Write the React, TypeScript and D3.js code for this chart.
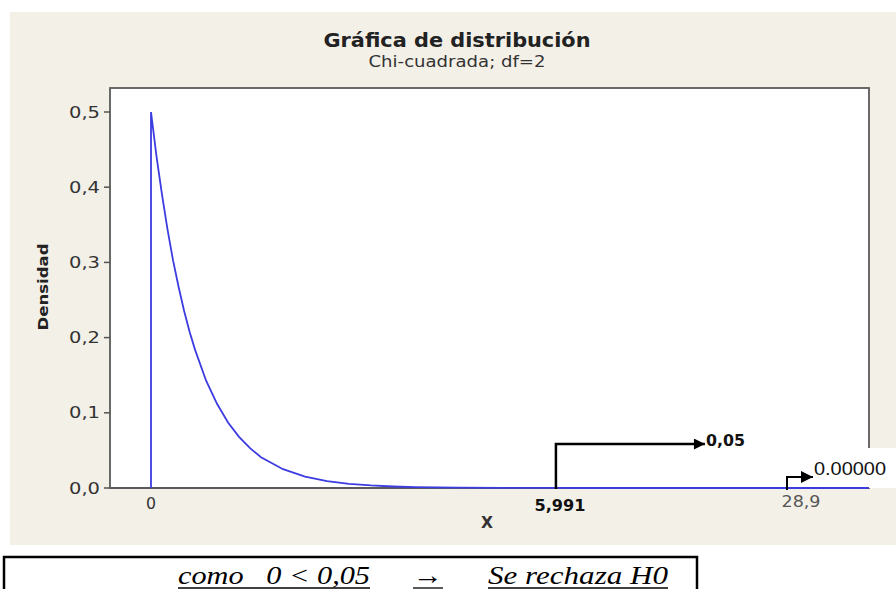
import React from "react";
import * as d3 from "d3";

// ---- data ----
const title = "Gráfica de distribución";
const subtitle = "Chi-cuadrada; df=2";
const yLabel = "Densidad";
const xLabel = "X";

const yTicks = [0, 0.1, 0.2, 0.3, 0.4, 0.5];
const xTicks = [0];

// density curve (x, density)
const curveX = [0, 0.25, 0.5, 0.75, 1, 1.25, 1.5, 1.75, 2, 2.5, 3, 3.5, 4, 4.5, 5, 6, 7, 8, 9, 10, 11, 12, 14, 16, 18, 20, 25, 32.6];
const curveY = [0.5, 0.441, 0.39, 0.344, 0.303, 0.268, 0.236, 0.208, 0.184, 0.143, 0.112, 0.087, 0.068, 0.053, 0.041, 0.025, 0.015, 0.009, 0.0056, 0.0034, 0.002, 0.0012, 0.0005, 0.0002, 0.0001, 0, 0, 0];

// pasted annotations (anchor on the x axis, label text)
const criticalAt = 18.4; // where the "5,991" marker sits in the picture
const criticalLabel = "5,991";
const alphaLabel = "0,05";
const statAt = 28.9;
const statLabel = "28,9";
const pLabel = "0.00000";

const conclusionLeft = "como   0 < 0,05";
const conclusionArrow = "→";
const conclusionRight = "Se rechaza H0";

const W = 896;
const H = 589;

export default function App() {
  const x = d3.scaleLinear().domain([0, 28.9]).range([151, 787]);
  const y = d3.scaleLinear().domain([0, 0.5]).range([488, 112]);
  const frameL = 110, frameR = 869, frameT = 88, frameB = 488;

  const pts: [number, number][] = [[curveX[0], 0], ...curveX.map((v, i) => [v, curveY[i]] as [number, number])];
  const line = d3.line<[number, number]>().x(d => x(d[0])).y(d => y(d[1]));

  const loc = d3.formatLocale({ decimal: ",", thousands: ".", grouping: [3], currency: ["", ""] });
  const fmt = loc.format(".1f");

  const sans = "'DejaVu Sans', Verdana, sans-serif";
  const serif = "'Liberation Serif', 'Times New Roman', serif";

  const cx = x(criticalAt);
  const sx = x(statAt);
  const base = y(0);

  return (
    <svg width={W} height={H} style={{ position: "absolute", left: 0, top: 0, background: "#ffffff" }}>
      <defs>
        <marker id="ah" viewBox="0 0 10 10" refX="10" refY="5" markerWidth="6" markerHeight="4.4" markerUnits="strokeWidth" orient="auto">
          <path d="M0,0 L10,5 L0,10 z" fill="#000" />
        </marker>
        <marker id="ah2" viewBox="0 0 10 10" refX="10" refY="5" markerWidth="8" markerHeight="6" markerUnits="strokeWidth" orient="auto">
          <path d="M0,0 L10,5 L0,10 z" fill="#000" />
        </marker>
      </defs>
      {/* beige chart background */}
      <rect x={10} y={12} width={W - 10} height={533} fill="#f3f0e8" />
      {/* plot area */}
      <rect x={frameL} y={frameT} width={frameR - frameL} height={frameB - frameT} fill="#ffffff" stroke="#5a5a5a" strokeWidth={1.8} />
      {/* white patch pasted over right edge */}
      <rect x={805} y={448} width={W - 805} height={40} fill="#ffffff" />
      <line x1={frameL} x2={frameR} y1={frameB} y2={frameB} stroke="#5a5a5a" strokeWidth={1.8} />

      {/* title */}
      <text x={457} y={47} textAnchor="middle" fontFamily={sans} fontWeight="bold" fontSize={19} fill="#222" textLength={267} lengthAdjust="spacingAndGlyphs">{title}</text>
      <text x={457} y={67} textAnchor="middle" fontFamily={sans} fontSize={15} fill="#333" textLength={177} lengthAdjust="spacingAndGlyphs">{subtitle}</text>

      {/* y axis */}
      {yTicks.map(t => (
        <g key={t}>
          <line x1={frameL - 6} x2={frameL} y1={y(t)} y2={y(t)} stroke="#555" strokeWidth={1.5} />
          <text x={100} y={y(t)} dy="0.36em" textAnchor="end" fontFamily={sans} fontSize={15.5} fill="#333" textLength={31} lengthAdjust="spacingAndGlyphs">{fmt(t)}</text>
        </g>
      ))}
      <text transform={`translate(48,287) rotate(-90)`} textAnchor="middle" fontFamily={sans} fontWeight="bold" fontSize={14.5} fill="#222" textLength={87} lengthAdjust="spacingAndGlyphs">{yLabel}</text>

      {/* x axis */}
      {xTicks.map(t => (
        <text key={t} x={x(t)} y={503} dy="0.36em" textAnchor="middle" fontFamily={sans} fontSize={15.5} fill="#333" textLength={10} lengthAdjust="spacingAndGlyphs">{t}</text>
      ))}
      <text x={487} y={523} dy="0.36em" textAnchor="middle" fontFamily={sans} fontWeight="bold" fontSize={15} fill="#333" textLength={12} lengthAdjust="spacingAndGlyphs">{xLabel}</text>

      {/* density curve */}
      <path d={line(pts) || ""} fill="none" stroke="#3c3ce0" strokeWidth={1.8} />

      {/* critical value annotation */}
      <path d={`M${cx},${base + 1} V${base - 44} H${cx + 149}`} fill="none" stroke="#000" strokeWidth={2.5} markerEnd="url(#ah)" />
      <text x={cx + 150} y={440} dy="0.36em" fontFamily={sans} fontWeight="bold" fontSize={16} fill="#111" textLength={39} lengthAdjust="spacingAndGlyphs">{alphaLabel}</text>
      <text x={cx + 4} y={505} dy="0.36em" textAnchor="middle" fontFamily={sans} fontWeight="bold" fontSize={16} fill="#111" textLength={51} lengthAdjust="spacingAndGlyphs">{criticalLabel}</text>

      {/* statistic annotation */}
      <path d={`M${sx},${base + 2} V${base - 11} H${sx + 26}`} fill="none" stroke="#000" strokeWidth={2} markerEnd="url(#ah2)" />
      <text x={sx + 27} y={469} dy="0.36em" fontFamily="'Liberation Sans', Arial, sans-serif" fontSize={18} fill="#111" textLength={72} lengthAdjust="spacingAndGlyphs">{pLabel}</text>
      <text x={sx + 14} y={501} dy="0.36em" textAnchor="middle" fontFamily={sans} fontSize={15.5} fill="#555" textLength={39} lengthAdjust="spacingAndGlyphs">{statLabel}</text>

      {/* conclusion box */}
      <rect x={4} y={557} width={693} height={45} fill="none" stroke="#000" strokeWidth={2.5} />
      <text x={178} y={584} fontFamily={serif} fontStyle="italic" fontSize={26} fill="#000" textLength={192} lengthAdjust="spacingAndGlyphs" style={{ whiteSpace: "pre" }} xmlSpace="preserve">{conclusionLeft}</text>
      <line x1={178} x2={370} y1={588} y2={588} stroke="#000" strokeWidth={1.3} />
      <text x={413} y={584} fontFamily={serif} fontSize={26} fill="#000" textLength={30} lengthAdjust="spacingAndGlyphs">{conclusionArrow}</text>
      <line x1={413} x2={443} y1={588} y2={588} stroke="#000" strokeWidth={1.3} />
      <text x={488} y={584} fontFamily={serif} fontStyle="italic" fontSize={26} fill="#000" textLength={180} lengthAdjust="spacingAndGlyphs">{conclusionRight}</text>
      <line x1={488} x2={668} y1={588} y2={588} stroke="#000" strokeWidth={1.3} />
    </svg>
  );
}
